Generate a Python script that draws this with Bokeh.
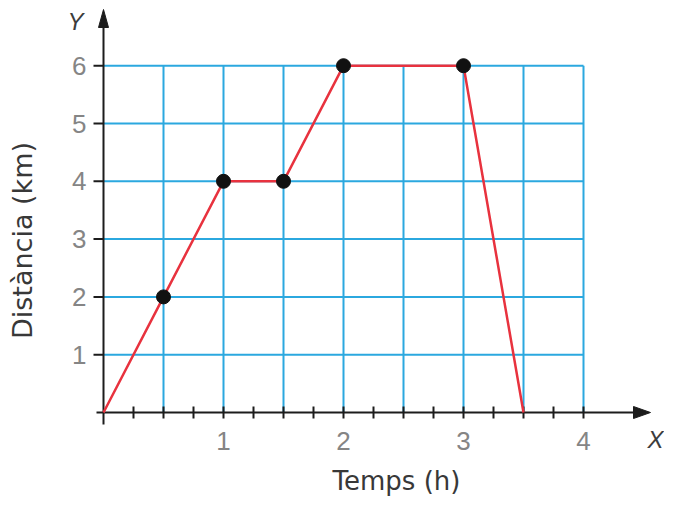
from bokeh.plotting import figure
from bokeh.models import Range1d
from bokeh.core.properties import value
from bokeh.embed import file_html
from bokeh.resources import INLINE

# data
temps = [0, 0.5, 1, 1.5, 2, 3, 3.5]
distancia = [0, 2, 4, 4, 6, 6, 0]
punts_x = [0.5, 1, 1.5, 2, 3]
punts_y = [2, 4, 4, 6, 6]
x_ticks = [1, 2, 3, 4]
x_tick_labels = ["1", "2", "3", "4"]
y_ticks = [1, 2, 3, 4, 5, 6]
y_tick_labels = ["1", "2", "3", "4", "5", "6"]
x_grid = [0.5, 1, 1.5, 2, 2.5, 3, 3.5, 4]
x_minor = [0.25, 0.5, 0.75, 1, 1.25, 1.5, 1.75, 2, 2.25, 2.5, 2.75, 3, 3.25, 3.5, 3.75, 4]

W, H = 664, 499
UX, UY = 120.0, 57.8       # pixels per unit
X0PX, Y0PX = 103, 412      # pixel position of the origin
xs = -X0PX / UX
ye = Y0PX / UY


def dx(px):
    return px / UX


def dy(px):
    return px / UY


p = figure(width=W, height=H, output_backend="svg", toolbar_location=None,
           x_range=Range1d(xs, xs + W / UX), y_range=Range1d(ye - H / UY, ye),
           min_border=0, outline_line_color=None)
p.axis.visible = False
p.grid.visible = False

grid_col = "#2ba8df"
ax_col = "#1c1c1c"
xmax, ymax = max(x_grid), max(y_ticks)
# grid
p.segment(x0=x_grid, y0=[0] * len(x_grid), x1=x_grid, y1=[ymax] * len(x_grid),
          line_color=grid_col, line_width=2)
p.segment(x0=[0] * len(y_ticks), y0=y_ticks, x1=[xmax] * len(y_ticks), y1=y_ticks,
          line_color=grid_col, line_width=2)

# axes
x_tip = dx(650 - X0PX)
y_tip = dy(Y0PX - 9)
p.segment(x0=[-dx(7)], y0=[0], x1=[x_tip - dx(10)], y1=[0], line_color=ax_col, line_width=2)
p.segment(x0=[0], y0=[-dy(12)], x1=[0], y1=[y_tip - dy(10)], line_color=ax_col, line_width=2)
p.patch(x=[x_tip, x_tip - dx(17), x_tip - dx(17)], y=[0, dy(6), -dy(6)], color=ax_col)
p.patch(x=[0, -dx(5), dx(5)], y=[y_tip, y_tip - dy(18), y_tip - dy(18)], color=ax_col)

# ticks
p.segment(x0=x_minor, y0=[-dy(6)] * len(x_minor), x1=x_minor, y1=[dy(6)] * len(x_minor),
          line_color=ax_col, line_width=2)
p.segment(x0=[-dx(10)] * len(y_ticks), y0=y_ticks, x1=[0] * len(y_ticks), y1=y_ticks,
          line_color=ax_col, line_width=2)

# data line and points
p.line(temps, distancia, line_color="#e8323e", line_width=2.5)
p.scatter(punts_x, punts_y, size=14, color="#111111")

lab_col = "#858585"
font = value("Liberation Sans")
p.text(x=x_ticks, y=[-dy(28)] * len(x_ticks), text=x_tick_labels, text_align="center",
       text_baseline="middle", text_font_size="26px", text_color=lab_col, text_font=font)
p.text(x=[-dx(17)] * len(y_ticks), y=y_ticks, text=y_tick_labels, text_align="right",
       text_baseline="middle", text_font_size="26px", text_color=lab_col, text_font=font)

p.text(x=[-dx(28)], y=[dy(Y0PX - 21)], text=["Y"], text_align="center", text_baseline="middle",
       text_font_size="24px", text_color="#3c3c3c", text_font=font, text_font_style="italic")
p.text(x=[dx(655 - X0PX)], y=[-dy(27)], text=["X"], text_align="center", text_baseline="middle",
       text_font_size="24px", text_color="#3c3c3c", text_font=font, text_font_style="italic")

tfont = value("DejaVu Sans")
p.text(x=[dx(396 - X0PX)], y=[-dy(480 - Y0PX)], text=["Temps (h)"], text_align="center",
       text_baseline="middle", text_font_size="26px", text_color="#383838", text_font=tfont)
p.text(x=[-dx(X0PX - 22)], y=[dy(Y0PX - 240)], text=["Distància (km)"], text_align="center",
       text_baseline="middle", angle=1.5708, text_font_size="27px", text_color="#383838",
       text_font=tfont)

open("out.html", "w").write(file_html(p, INLINE))
